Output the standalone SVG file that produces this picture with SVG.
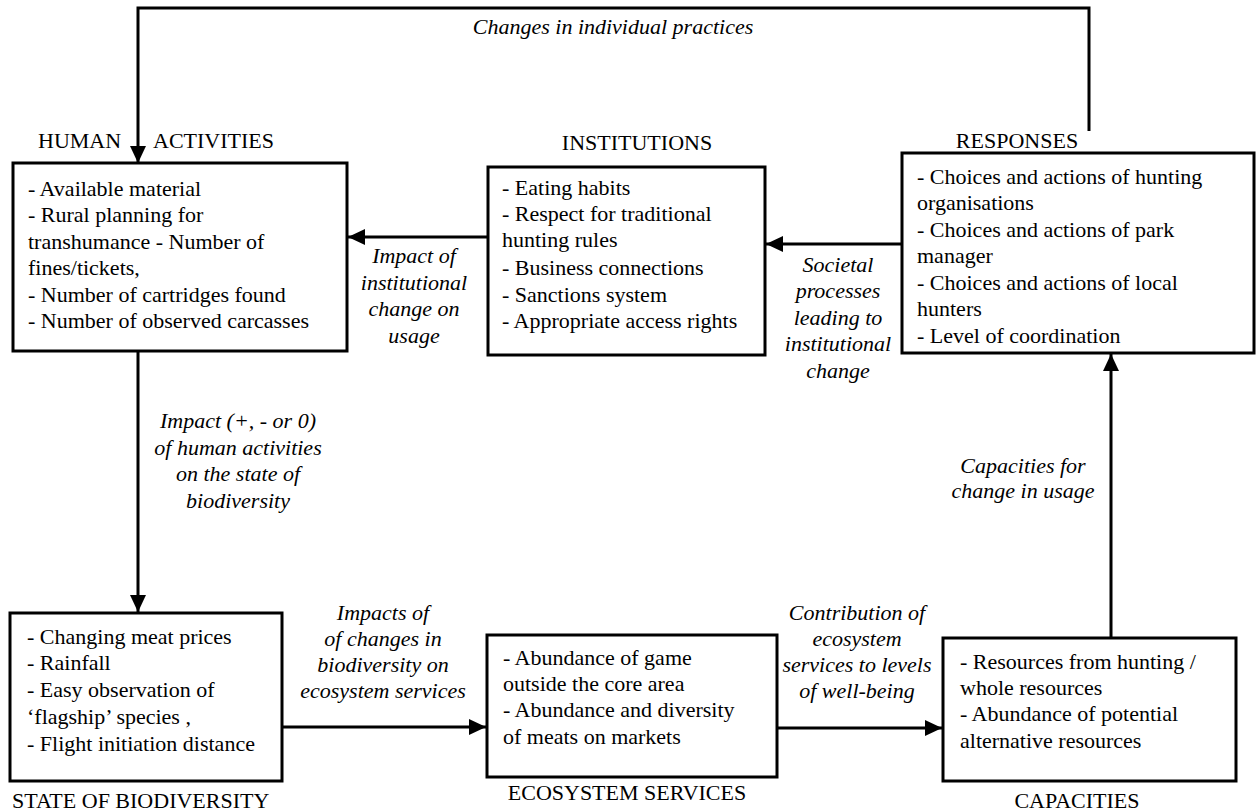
<svg xmlns="http://www.w3.org/2000/svg" width="1258" height="811" viewBox="0 0 1258 811">
<style>
  .box { fill: #fff; stroke: #000; stroke-width: 3; }
  .t { font-family: "Liberation Serif", "Times New Roman", serif; font-size: 22px; fill: #000; }
  .h { font-family: "Liberation Serif", "Times New Roman", serif; font-size: 22px; fill: #000; }
  .lbl { font-family: "Liberation Serif", "Times New Roman", serif; font-size: 22px; font-style: italic; fill: #000; text-anchor: middle; }
  .conn { fill: none; stroke: #000; stroke-width: 3; }
</style>
<defs>
  <marker id="arr" markerUnits="userSpaceOnUse" markerWidth="18" markerHeight="18" refX="17" refY="8" orient="auto">
    <path d="M0,0 L17,8 L0,16 z" fill="#000"/>
  </marker>
</defs>
<rect width="1258" height="811" fill="#fff"/>

<g id="connectors">
  <polyline class="conn" points="1089,131 1089,8 138,8 138,163" marker-end="url(#arr)"/>
  <line class="conn" x1="488" y1="237" x2="348" y2="237" marker-end="url(#arr)"/>
  <line class="conn" x1="902" y1="244" x2="766" y2="244" marker-end="url(#arr)"/>
  <line class="conn" x1="138" y1="351" x2="138" y2="612" marker-end="url(#arr)"/>
  <line class="conn" x1="282" y1="727" x2="486" y2="727" marker-end="url(#arr)"/>
  <line class="conn" x1="777" y1="728" x2="942" y2="728" marker-end="url(#arr)"/>
  <line class="conn" x1="1111" y1="638" x2="1111" y2="354" marker-end="url(#arr)"/>
  <text class="lbl" x="613" y="34">Changes in individual practices</text>
  <text class="lbl"><tspan x="414" y="263">Impact of</tspan><tspan x="414" y="290">institutional</tspan><tspan x="414" y="316">change on</tspan><tspan x="414" y="343">usage</tspan></text>
  <text class="lbl"><tspan x="838" y="272">Societal</tspan><tspan x="838" y="298">processes</tspan><tspan x="838" y="325">leading to</tspan><tspan x="838" y="351">institutional</tspan><tspan x="838" y="378">change</tspan></text>
  <text class="lbl"><tspan x="238" y="428">Impact (+, - or 0)</tspan><tspan x="238" y="455">of human activities</tspan><tspan x="238" y="481">on the state of</tspan><tspan x="238" y="508">biodiversity</tspan></text>
  <text class="lbl"><tspan x="383" y="620">Impacts of</tspan><tspan x="383" y="646">of changes in</tspan><tspan x="383" y="672">biodiversity on</tspan><tspan x="383" y="698">ecosystem services</tspan></text>
  <text class="lbl"><tspan x="857" y="620">Contribution of</tspan><tspan x="857" y="646">ecosystem</tspan><tspan x="857" y="672">services to levels</tspan><tspan x="857" y="698">of well-being</tspan></text>
  <text class="lbl"><tspan x="1023" y="473">Capacities for</tspan><tspan x="1023" y="498">change in usage</tspan></text>
</g>

<g id="human-activities">
  <text class="h"><tspan x="38" y="148">HUMAN</tspan><tspan x="153" y="148">ACTIVITIES</tspan></text>
  <rect class="box" x="13" y="163" width="334" height="188"/>
  <text class="t">
    <tspan x="28" y="196">- Available material</tspan>
    <tspan x="28" y="222">- Rural planning for</tspan>
    <tspan x="28" y="249">transhumance - Number of</tspan>
    <tspan x="28" y="275">fines/tickets,</tspan>
    <tspan x="28" y="302">- Number of cartridges found</tspan>
    <tspan x="28" y="328">- Number of observed carcasses</tspan>
  </text>
</g>

<g id="institutions">
  <text class="h" x="637" y="150" text-anchor="middle">INSTITUTIONS</text>
  <rect class="box" x="488" y="167" width="277" height="188"/>
  <text class="t">
    <tspan x="502" y="195">- Eating habits</tspan>
    <tspan x="502" y="221">- Respect for traditional</tspan>
    <tspan x="502" y="247">hunting rules</tspan>
    <tspan x="502" y="275">- Business connections</tspan>
    <tspan x="502" y="302">- Sanctions system</tspan>
    <tspan x="502" y="328">- Appropriate access rights</tspan>
  </text>
</g>

<g id="responses">
  <text class="h" x="1017" y="148" text-anchor="middle">RESPONSES</text>
  <rect class="box" x="902" y="153" width="352" height="200"/>
  <text class="t">
    <tspan x="917" y="184">- Choices and actions of hunting</tspan>
    <tspan x="917" y="210">organisations</tspan>
    <tspan x="917" y="237">- Choices and actions of park</tspan>
    <tspan x="917" y="263">manager</tspan>
    <tspan x="917" y="290">- Choices and actions of local</tspan>
    <tspan x="917" y="316">hunters</tspan>
    <tspan x="917" y="343">- Level of coordination</tspan>
  </text>
</g>

<g id="state-of-biodiversity">
  <rect class="box" x="10" y="613" width="272" height="168"/>
  <text class="t">
    <tspan x="27" y="644">- Changing meat prices</tspan>
    <tspan x="27" y="670">- Rainfall</tspan>
    <tspan x="27" y="697">- Easy observation of</tspan>
    <tspan x="27" y="724">‘flagship’ species ,</tspan>
    <tspan x="27" y="751">- Flight initiation distance</tspan>
  </text>
  <text class="h" x="12" y="808">STATE OF BIODIVERSITY</text>
</g>

<g id="ecosystem-services">
  <rect class="box" x="487" y="635" width="290" height="142"/>
  <text class="t">
    <tspan x="503" y="665">- Abundance of game</tspan>
    <tspan x="503" y="691">outside the core area</tspan>
    <tspan x="503" y="717">- Abundance and diversity</tspan>
    <tspan x="503" y="744">of meats on markets</tspan>
  </text>
  <text class="h" x="627" y="800" text-anchor="middle">ECOSYSTEM SERVICES</text>
</g>

<g id="capacities">
  <rect class="box" x="943" y="638" width="293" height="143"/>
  <text class="t">
    <tspan x="960" y="669">- Resources from hunting /</tspan>
    <tspan x="960" y="695">whole resources</tspan>
    <tspan x="960" y="721">- Abundance of potential</tspan>
    <tspan x="960" y="748">alternative resources</tspan>
  </text>
  <text class="h" x="1077" y="808" text-anchor="middle">CAPACITIES</text>
</g>
</svg>
